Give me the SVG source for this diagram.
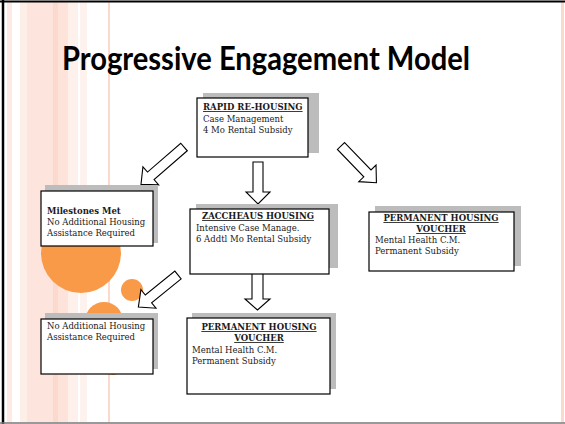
<svg xmlns="http://www.w3.org/2000/svg" width="565" height="424" viewBox="0 0 565 424">
  <style>
    .box { fill: #ffffff; stroke: #000000; stroke-width: 1.2; }
    .shadow { fill: #bcbcbc; }
    .arrow { fill: #ffffff; stroke: #000000; stroke-width: 1.1; stroke-linejoin: miter; }
    .t { font-family: "DejaVu Serif", "Liberation Serif", serif; font-size: 8.5px; fill: #1a1a1a; }
    .h { font-family: "DejaVu Serif", "Liberation Serif", serif; font-size: 8.5px; font-weight: bold; fill: #1a1a1a; text-decoration: underline; }
    .hb { font-family: "DejaVu Serif", "Liberation Serif", serif; font-size: 8.5px; font-weight: bold; fill: #1a1a1a; }
    .stripe { fill: #fcd9cd; }
    .dot { fill: #f99a48; }
  </style>
  <defs>
    <!-- block arrow pointing along +x, tail at origin -->
    <polygon id="arrowLong" class="arrow" points="0,-5 44,-5 44,-12 57,0 44,12 44,5 0,5"/>
    <polygon id="arrowMid" class="arrow" points="0,-5 38,-5 38,-12 51,0 38,12 38,5 0,5"/>
  </defs>

  <!-- slide background -->
  <rect x="0" y="0" width="565" height="424" fill="#ffffff"/>

  <!-- decorative pink stripes down the left edge -->
  <g id="stripes">
    <rect class="stripe" x="7" y="2" width="5" height="420" opacity="0.55"/>
    <rect class="stripe" x="20" y="2" width="7" height="420" opacity="0.45"/>
    <rect class="stripe" x="27" y="2" width="26" height="420" opacity="0.7"/>
    <rect class="stripe" x="53" y="2" width="5" height="420" opacity="1"/>
    <rect class="stripe" x="58" y="2" width="10" height="420" opacity="0.75"/>
    <rect class="stripe" x="68" y="2" width="10" height="420" opacity="0.4"/>
    <rect class="stripe" x="80" y="2" width="7" height="420" opacity="0.35"/>
    <rect class="stripe" x="108" y="2" width="2" height="420" opacity="1"/>
    <rect class="stripe" x="561" y="2" width="3" height="420" opacity="1"/>
  </g>

  <!-- orange circles -->
  <g id="circles">
    <circle class="dot" cx="81" cy="253" r="40"/>
    <circle class="dot" cx="132" cy="290" r="11"/>
    <circle class="dot" cx="104" cy="321" r="19"/>
    <circle class="dot" cx="113" cy="366" r="9"/>
  </g>

  <!-- slide frame -->
  <line x1="3" y1="0" x2="3" y2="424" stroke="#000" stroke-width="2.5"/>
  <line x1="0" y1="1.5" x2="565" y2="1.5" stroke="#000" stroke-width="2"/>
  <line x1="0" y1="423" x2="565" y2="423" stroke="#777" stroke-width="1.5"/>

  <!-- title -->
  <text x="62" y="70" font-family="Lato, 'Open Sans', sans-serif" font-weight="bold" font-size="32" fill="#000" textLength="408" lengthAdjust="spacingAndGlyphs">Progressive Engagement Model</text>

  <!-- connectors -->
  <g id="connectors">
    <polygon class="arrow" points="253,162 263,162 263,192 270,192 258,204 246,192 253,192"/>
    <polygon class="arrow" points="252,273 263,273 263,299 270,299 257.5,310 245,299 252,299"/>
    <use href="#arrowLong" transform="translate(184,147) rotate(139)"/>
    <use href="#arrowMid" transform="translate(341,146) rotate(46)"/>
    <use href="#arrowMid" transform="translate(178,275) rotate(141)"/>
  </g>

  <!-- nodes -->
  <g id="rapid">
    <rect class="shadow" x="203" y="93" width="116" height="60"/>
    <rect class="box" x="197" y="98" width="111" height="59"/>
    <text class="h" x="203" y="110">RAPID RE-HOUSING</text>
    <text class="t" x="203" y="122">Case Management</text>
    <text class="t" x="203" y="133">4 Mo Rental Subsidy</text>
  </g>

  <g id="milestones">
    <rect class="shadow" x="45" y="185" width="113" height="58"/>
    <rect class="box" x="41" y="191" width="112" height="55"/>
    <text class="hb" x="47" y="214">Milestones Met</text>
    <text class="t" x="47" y="225">No Additional Housing</text>
    <text class="t" x="47" y="236">Assistance Required</text>
  </g>

  <g id="zaccheaus">
    <rect class="shadow" x="196" y="204" width="142" height="64"/>
    <rect class="box" x="190" y="209" width="139" height="65"/>
    <text class="h" x="258" y="219" text-anchor="middle">ZACCHEAUS HOUSING</text>
    <text class="t" x="196" y="231">Intensive Case Manage.</text>
    <text class="t" x="196" y="242">6 Addtl Mo Rental Subsidy</text>
  </g>

  <g id="voucher-right">
    <rect class="shadow" x="375" y="206" width="146" height="60"/>
    <rect class="box" x="369" y="212" width="145" height="59"/>
    <text class="h" x="441" y="221" text-anchor="middle">PERMANENT HOUSING</text>
    <text class="h" x="441" y="232" text-anchor="middle">VOUCHER</text>
    <text class="t" x="375" y="243">Mental Health C.M.</text>
    <text class="t" x="375" y="254">Permanent Subsidy</text>
  </g>

  <g id="no-assistance">
    <rect class="shadow" x="45" y="313" width="113" height="56"/>
    <rect class="box" x="41" y="319" width="112" height="55"/>
    <text class="t" x="47" y="329">No Additional Housing</text>
    <text class="t" x="47" y="340">Assistance Required</text>
  </g>

  <g id="voucher-bottom">
    <rect class="shadow" x="192" y="313" width="144" height="76"/>
    <rect class="box" x="187" y="318" width="143" height="76"/>
    <text class="h" x="259" y="330" text-anchor="middle">PERMANENT HOUSING</text>
    <text class="h" x="259" y="341" text-anchor="middle">VOUCHER</text>
    <text class="t" x="192" y="353">Mental Health C.M.</text>
    <text class="t" x="192" y="364">Permanent Subsidy</text>
  </g>
</svg>
